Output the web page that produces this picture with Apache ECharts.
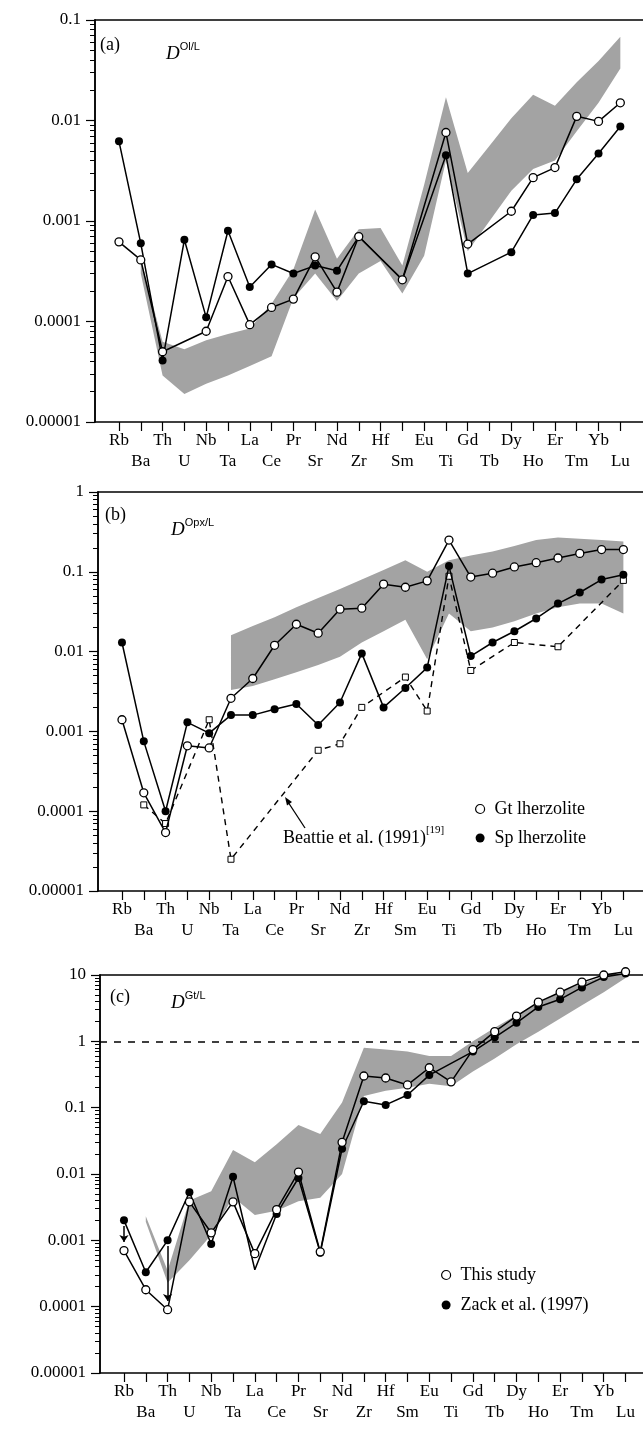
<!DOCTYPE html>
<html>
<head>
<meta charset="utf-8">
<script src="https://cdn.jsdelivr.net/npm/echarts@6/dist/echarts.min.js"></script>
<style>
  html, body { margin: 0; padding: 0; background: #fff; }
  #main { width: 643px; height: 1430px; }
</style>
</head>
<body>
<div id="main"></div>
<script>
// element order on the x axis
var elements = ['Rb','Ba','Th','U','Nb','Ta','La','Ce','Pr','Sr','Nd','Zr','Hf','Sm','Eu','Ti','Gd','Tb','Dy','Ho','Er','Tm','Yb','Lu'];

// y tick labels of each panel
var yTicksA = [0.00001, 0.0001, 0.001, 0.01, 0.1];
var yLabelsA = ['0.00001', '0.0001', '0.001', '0.01', '0.1'];
var yTicksB = [0.00001, 0.0001, 0.001, 0.01, 0.1, 1];
var yLabelsB = ['0.00001', '0.0001', '0.001', '0.01', '0.1', '1'];
var yTicksC = [0.00001, 0.0001, 0.001, 0.01, 0.1, 1, 10];
var yLabelsC = ['0.00001', '0.0001', '0.001', '0.01', '0.1', '1', '10'];

// (a) D Ol/L
var olOpen   = [0.00062, 0.00041, 0.00005, null, 0.00008, 0.00028, 0.000093, 0.000138, 0.000167, 0.00044, 0.000196, 0.0007, null, 0.00026, null, 0.0076, 0.00059, null, 0.00125, 0.0027, 0.0034, 0.011, 0.0098, 0.015];
var olFilled = [0.0062, 0.0006, 0.000041, 0.00065, 0.00011, 0.0008, 0.00022, 0.00037, 0.0003, 0.00036, 0.00032, 0.0007, null, 0.00026, null, 0.0045, 0.0003, null, 0.00049, 0.00115, 0.0012, 0.0026, 0.0047, 0.0087];
var olBandLow  = [null, 0.0003, 0.000029, 0.000019, 0.000024, 0.000029, 0.000036, 0.000045, 0.00017, 0.0003, 0.00016, 0.0003, 0.0004, 0.00019, 0.00045, 0.004, 0.0005, 0.001, 0.002, 0.0033, 0.004, 0.0078, 0.015, 0.033];
var olBandHigh = [null, 0.00042, 0.000063, 0.000053, 0.000065, 0.000075, 0.000085, 0.00015, 0.00033, 0.0013, 0.00042, 0.00083, 0.00085, 0.00036, 0.0023, 0.017, 0.003, 0.0056, 0.0105, 0.018, 0.014, 0.024, 0.039, 0.068];

// (b) D Opx/L
var gtLherz = [0.0014, 0.00017, 0.000054, 0.00066, 0.00062, 0.0026, 0.0046, 0.012, 0.022, 0.017, 0.034, 0.035, 0.07, 0.064, 0.077, 0.25, 0.086, 0.096, 0.115, 0.13, 0.149, 0.17, 0.19, 0.19];
var spLherz = [0.013, 0.00075, 0.0001, 0.0013, 0.00095, 0.0016, 0.0016, 0.0019, 0.0022, 0.0012, 0.0023, 0.0095, 0.002, 0.0035, 0.0063, 0.118, 0.0088, 0.013, 0.018, 0.026, 0.04, 0.055, 0.08, 0.092];
var beattie = [null, 0.00012, 0.00007, null, 0.0014, 0.000025, null, null, null, 0.00058, 0.0007, 0.002, null, 0.0048, 0.0018, 0.088, 0.0058, null, 0.013, null, 0.0115, null, null, 0.078];
var opxBandLow  = [null, null, null, null, null, 0.0033, 0.0037, 0.0045, 0.0055, 0.0068, 0.0086, 0.013, 0.018, 0.025, 0.008, 0.03, 0.018, 0.02, 0.024, 0.03, 0.036, 0.04, 0.04, 0.03];
var opxBandHigh = [null, null, null, null, null, 0.016, 0.021, 0.027, 0.036, 0.047, 0.061, 0.08, 0.105, 0.14, 0.1, 0.14, 0.16, 0.18, 0.21, 0.25, 0.27, 0.26, 0.25, 0.24];

// (c) D Gt/L
var thisStudy = [0.0007, 0.00018, 0.00009, 0.0038, 0.0013, 0.0038, 0.00063, 0.0029, 0.0107, 0.00067, 0.03, 0.3, 0.28, 0.22, 0.4, 0.245, 0.75, 1.4, 2.4, 3.9, 5.5, 7.8, 10, 11.2];
var zack      = [0.002, 0.00033, 0.001, 0.0053, 0.00088, 0.0091, 0.00036, 0.0025, 0.0087, 0.00065, 0.024, 0.125, 0.11, 0.155, 0.31, null, 0.7, 1.15, 1.9, 3.3, 4.3, 6.5, 9.3, 10.5];
var zackNoMarker = ['La'];
var zackArrows = ['Rb', 'Th'];
var gtBandLow  = [null, 0.0019, 0.00023, 0.0005, 0.0012, 0.0045, 0.0024, 0.0028, 0.0039, 0.0044, 0.01, 0.15, 0.18, 0.2, 0.23, 0.21, 0.35, 0.55, 0.9, 1.4, 2.2, 3.5, 5.5, 9];
var gtBandHigh = [null, 0.0023, 0.00035, 0.004, 0.0055, 0.023, 0.015, 0.028, 0.055, 0.04, 0.12, 0.8, 0.75, 0.7, 0.6, 0.6, 1.0, 1.6, 2.5, 3.8, 5.5, 7.5, 9.5, 10.5];

var SERIF = 'Liberation Serif';
var grids = [
  { left: 95, top: 20, right: 0, height: 402 },
  { left: 98, top: 492, right: 0, height: 399 },
  { left: 100, top: 975, right: 0, height: 398 }
];
var xMin = -1.1;
var xMax = [24.04, 23.9, 23.8];
var idx = elements.map(function (e, i) { return i; });

function pts(vals) {
  var out = [];
  vals.forEach(function (v, i) { if (v != null) out.push([i, v]); });
  return out;
}

function minorOf(ticks) {
  var out = [];
  for (var i = 0; i < ticks.length - 1; i++) {
    for (var m = 2; m <= 9; m++) out.push(ticks[i] * m);
  }
  return out;
}

var xAxes = [], yAxes = [];
[0, 1, 2].forEach(function (g) {
  xAxes.push({
    type: 'value', gridIndex: g, position: 'bottom', min: xMin, max: xMax[g],
    axisLine: { onZero: false, lineStyle: { color: '#000', width: 1.5 } },
    axisTick: { length: 9, customValues: idx, lineStyle: { color: '#000', width: 1.2 } },
    axisLabel: {
      customValues: idx, margin: 8, lineHeight: 21,
      fontFamily: SERIF, fontSize: 17, color: '#000',
      formatter: function (v) { return v % 2 ? '\n' + elements[v] : elements[v]; }
    },
    splitLine: { show: false }
  });
});
[0, 1, 2].forEach(function (g) {
  xAxes.push({
    type: 'value', gridIndex: g, position: 'top', min: xMin, max: xMax[g],
    axisLine: { onZero: false, lineStyle: { color: '#000', width: 1.5 } },
    axisTick: { show: false }, axisLabel: { show: false }, splitLine: { show: false }
  });
});
var tickSets = [[yTicksA, yLabelsA], [yTicksB, yLabelsB], [yTicksC, yLabelsC]];
tickSets.forEach(function (t, g) {
  var ticks = t[0], labels = t[1];
  yAxes.push({
    type: 'log', logBase: 10, gridIndex: g, position: 'left', min: ticks[0], max: ticks[ticks.length - 1],
    axisLine: { show: true, onZero: false, lineStyle: { color: '#000', width: 1.5 } },
    axisTick: { length: 9, customValues: ticks, lineStyle: { color: '#000', width: 1.2 } },
    axisLabel: {
      customValues: ticks, margin: 14, fontFamily: SERIF, fontSize: 17, color: '#000',
      formatter: function (v) {
        var k = Math.round(Math.log10(v) - Math.log10(ticks[0]));
        return labels[k];
      }
    },
    splitLine: { show: false }
  });
});
// minor ticks (2..9 of each decade) on a second, label-less axis at the same place
tickSets.forEach(function (t, g) {
  var ticks = t[0];
  yAxes.push({
    type: 'log', logBase: 10, gridIndex: g, position: 'left', min: ticks[0], max: ticks[ticks.length - 1],
    axisLine: { show: true, onZero: false, lineStyle: { color: '#000', width: 1.5 } },
    axisTick: { length: 5, customValues: minorOf(ticks), lineStyle: { color: '#000', width: 1 } },
    axisLabel: { show: false }, splitLine: { show: false }
  });
});

function band(lo, hi, g) {
  return {
    type: 'custom', xAxisIndex: g, yAxisIndex: g, silent: true, z: 1, clip: false,
    data: pts(hi),
    renderItem: function (params, api) {
      if (params.dataIndex !== 0) return null;
      var top = [], bot = [];
      for (var i = 0; i < lo.length; i++) {
        if (lo[i] == null) continue;
        top.push(api.coord([i, hi[i]]));
        bot.unshift(api.coord([i, lo[i]]));
      }
      return { type: 'polygon', shape: { points: top.concat(bot) }, style: { fill: '#a3a3a3' } };
    }
  };
}

function line(name, vals, g, open, extra) {
  var s = {
    name: name, type: 'line', xAxisIndex: g, yAxisIndex: g, z: 3, clip: false,
    data: pts(vals), symbol: 'circle', symbolSize: 8,
    lineStyle: { color: '#000', width: 1.5 },
    itemStyle: open ? { color: '#fff', borderColor: '#000', borderWidth: 1.3 } : { color: '#000' },
    emphasis: { disabled: true }
  };
  for (var k in extra) s[k] = extra[k];
  return s;
}

var zackData = pts(zack).map(function (p) {
  return zackNoMarker.indexOf(elements[p[0]]) >= 0 ? { value: p, symbol: 'none' } : p;
});
var arrowData = zackArrows.map(function (e) {
  var i = elements.indexOf(e);
  return [{ coord: [i, zack[i] * 0.82] }, { coord: [i, thisStudy[i] * 1.35] }];
});

var series = [
  band(olBandLow, olBandHigh, 0),
  line('Ol filled', olFilled, 0, false),
  line('Ol open', olOpen, 0, true),

  band(opxBandLow, opxBandHigh, 1),
  line('Beattie', beattie, 1, true, {
    symbol: 'rect', symbolSize: 6, z: 2,
    lineStyle: { color: '#000', width: 1.4, type: [6, 5] },
    itemStyle: { color: '#fff', borderColor: '#000', borderWidth: 1 }
  }),
  line('Sp lherzolite', spLherz, 1, false),
  line('Gt lherzolite', gtLherz, 1, true),

  band(gtBandLow, gtBandHigh, 2),
  line('Zack et al. (1997)', zack, 2, false, {
    data: zackData,
    markLine: {
      silent: true, symbol: ['none', 'arrow'], symbolSize: 7, label: { show: false },
      lineStyle: { color: '#000', width: 1.5, type: 'solid' }, data: arrowData
    }
  }),
  line('This study', thisStudy, 2, true, {
    markLine: {
      silent: true, symbol: 'none', label: { show: false },
      lineStyle: { color: '#000', width: 1.5, type: [7, 7] }, data: [{ yAxis: 1 }]
    }
  })
];

function dLabel(x, y, sup) {
  return {
    type: 'text', x: x, y: y,
    style: {
      text: '{d|D}{s|' + sup + '}', lineHeight: 22,
      rich: {
        d: { fontFamily: SERIF, fontStyle: 'italic', fontSize: 19, verticalAlign: 'bottom', lineHeight: 22 },
        s: { fontFamily: 'Liberation Sans', fontSize: 11, verticalAlign: 'top', lineHeight: 22 }
      }
    }
  };
}
function panelTag(x, y, t) {
  return { type: 'text', x: x, y: y, style: { text: t, fontFamily: SERIF, fontSize: 18, fill: '#000' } };
}

var legendBase = {
  orient: 'vertical', icon: 'circle', itemWidth: 9, itemHeight: 9, selectedMode: false,
  itemStyle: { borderColor: 'inherit', borderWidth: 1.2 },
  textStyle: { fontFamily: SERIF, fontSize: 18, color: '#000', padding: [0, 0, 0, 5] }
};

var chart = echarts.init(document.getElementById('main'));
chart.setOption({
  animation: false,
  backgroundColor: '#fff',
  grid: grids,
  xAxis: xAxes,
  yAxis: yAxes,
  legend: [
    Object.assign({}, legendBase, { data: ['Gt lherzolite', 'Sp lherzolite'], left: 470, top: 795, itemGap: 11 }),
    Object.assign({}, legendBase, { data: ['This study', 'Zack et al. (1997)'], left: 436, top: 1261, itemGap: 12 })
  ],
  graphic: [
    panelTag(100, 36, '(a)'),
    dLabel(166, 41, 'Ol/L'),
    panelTag(105, 506, '(b)'),
    dLabel(171, 517, 'Opx/L'),
    panelTag(110, 988, '(c)'),
    dLabel(171, 990, 'Gt/L'),
    {
      type: 'text', x: 283, y: 825,
      style: {
        text: '{t|Beattie et al. (1991)}{s|[19]}',
        rich: {
          t: { fontFamily: SERIF, fontSize: 18, fill: '#000', verticalAlign: 'bottom', lineHeight: 22 },
          s: { fontFamily: SERIF, fontSize: 11, fill: '#000', verticalAlign: 'top', lineHeight: 22 }
        }
      }
    },
    { type: 'line', shape: { x1: 305, y1: 828, x2: 288, y2: 802 }, style: { stroke: '#000', lineWidth: 1.3 } },
    { type: 'polygon', shape: { points: [[285, 797], [292, 802], [287, 805.5]] }, style: { fill: '#000' } }
  ],
  series: series
});
</script>
</body>
</html>
